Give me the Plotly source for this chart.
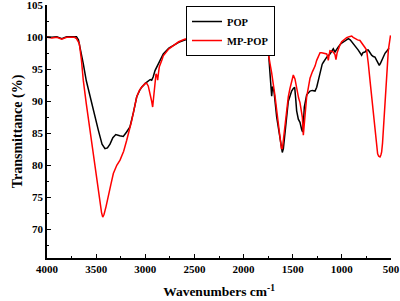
import plotly.graph_objects as go

# POP (black)
pop_wn = [4000, 3950, 3900, 3850, 3800, 3750, 3700, 3680, 3650, 3631, 3600, 3562, 3520, 3478, 3440,
          3410, 3385, 3359, 3330, 3300, 3260, 3224, 3190, 3156, 3120, 3087, 3054, 3037, 3000, 2970,
          2950, 2935, 2920, 2901, 2868, 2840, 2817, 2760, 2715, 2660, 2613, 2550, 2477, 2400, 2360,
          2340, 2300, 2200, 2100, 2000, 1900, 1800, 1780, 1760, 1748, 1731, 1722, 1714, 1705, 1690,
          1663, 1640, 1629, 1615, 1606, 1595, 1586, 1570, 1561, 1545, 1528, 1511, 1494, 1480, 1470,
          1460, 1443, 1426, 1409, 1399, 1390, 1382, 1358, 1324, 1300, 1273, 1256, 1240, 1222, 1200,
          1188, 1154, 1121, 1100, 1087, 1070, 1050, 1036, 1010, 985, 960, 934, 915, 900, 867,
          833, 799, 785, 765, 748, 731, 715, 697, 680, 663, 646, 630, 619, 605, 595,
          578, 561, 540, 527, 520]
pop_t = [100.1, 100.0, 100.1, 99.8, 100.1, 100.1, 100.1, 99.6, 97.5, 95.9, 93.2, 90.7, 88.0, 85.5, 83.3,
         82.6, 82.7, 83.3, 84.3, 84.8, 84.6, 84.5, 85.2, 86.0, 88.3, 90.7, 91.8, 92.2, 92.8, 93.1,
         93.4, 93.3, 93.8, 94.8, 95.9, 96.8, 97.4, 98.3, 98.75, 99.2, 99.5, 99.8, 100.0, 100.0, 99.7,
         99.9, 100.0, 100.0, 100.1, 100.0, 100.0, 100.0, 99.7, 98.8, 98.0, 94.3, 91.5, 90.8, 92.3, 91.5,
         87.5, 85.0, 83.9, 82.5, 82.0, 82.6, 84.0, 87.0, 88.5, 90.0, 90.8, 91.6, 92.0, 92.2, 90.5,
         88.5, 87.2, 86.7, 85.6, 85.2, 87.0, 89.1, 91.0, 91.6, 91.7, 91.6, 92.2, 93.3, 94.8, 95.8,
         96.1, 96.9, 97.4, 97.9, 98.2, 97.7, 98.3, 98.5, 99.0, 99.3, 99.6, 99.8, 99.6, 99.3, 98.75,
         98.0, 97.2, 97.6, 97.7, 98.0, 98.0, 97.6, 97.2, 97.0, 96.9, 96.4, 95.9, 95.6, 96.0, 96.4,
         97.0, 97.5, 97.9, 98.2, 98.3]

# MP-POP (red)
mp_wn = [4000, 3950, 3900, 3850, 3800, 3750, 3720, 3700, 3671, 3650, 3631, 3600, 3562, 3530, 3494,
         3465, 3445, 3433, 3420, 3400, 3376, 3350, 3325, 3290, 3257, 3220, 3189, 3160, 3138, 3110,
         3087, 3060, 3037, 3000, 2986, 2970, 2959, 2945, 2935, 2925, 2915, 2908, 2891, 2880, 2874,
         2865, 2857, 2830, 2817, 2760, 2715, 2660, 2600, 2500, 2420, 2395, 2375, 2360, 2350, 2340,
         2320, 2300, 2200, 2100, 2000, 1900, 1800, 1782, 1760, 1745, 1731, 1715, 1697, 1680, 1663,
         1645, 1629, 1615, 1605, 1595, 1578, 1560, 1545, 1528, 1511, 1494, 1477, 1465, 1453, 1440,
         1426, 1410, 1402, 1392, 1385, 1375, 1358, 1340, 1324, 1300, 1273, 1256, 1240, 1222, 1205,
         1188, 1154, 1145, 1138, 1130, 1121, 1100, 1087, 1070, 1060, 1048, 1036, 1020, 1002, 975,
         951, 925, 900, 885, 867, 840, 816, 800, 782, 765, 748, 740, 731, 714, 697,
         685, 673, 653, 636, 625, 612, 603, 595, 586, 578, 561, 544, 527, 510, 505]
mp_t = [100.0, 99.9, 100.0, 99.7, 100.0, 100.0, 100.0, 99.8, 99.0, 96.5, 93.3, 89.6, 85.5, 81.5, 77.7,
        74.8, 72.6, 71.9, 72.3, 73.5, 75.0, 77.0, 78.7, 80.0, 80.8, 82.2, 83.9, 85.6, 87.0, 89.0,
        90.7, 91.7, 92.2, 92.8, 92.8, 92.4, 91.7, 91.0, 90.0, 89.1, 90.5, 92.2, 94.3, 94.0, 93.3,
        94.5, 95.4, 96.5, 97.1, 98.2, 98.75, 99.3, 99.7, 100.0, 100.0, 99.8, 98.3, 97.3, 98.0, 97.9,
        99.3, 100.0, 100.0, 100.0, 100.0, 100.0, 100.0, 99.9, 98.6, 97.5, 95.9, 94.5, 92.8, 90.8, 88.6,
        86.0, 83.9, 82.6, 82.6, 84.0, 86.5, 88.8, 90.7, 92.0, 93.3, 94.1, 93.5, 92.5, 91.2, 90.5,
        89.8, 88.5, 87.5, 84.7, 86.0, 88.1, 90.7, 92.2, 93.6, 94.6, 95.5, 96.4, 97.1, 97.6, 97.6,
        97.5, 97.4, 97.0, 96.4, 97.2, 97.9, 97.8, 97.7, 97.3, 96.5, 97.6, 98.2, 98.8, 99.3, 99.7,
        99.95, 100.1, 100.2, 100.0, 99.8, 99.6, 99.5, 99.2, 98.75, 98.4, 98.0, 97.2, 95.9, 93.3, 90.7,
        88.5, 86.5, 83.4, 81.8, 81.4, 81.3, 81.6, 82.1, 83.5, 85.5, 89.6, 94.3, 98.0, 99.8, 100.3]

x_ticks = [4000, 3500, 3000, 2500, 2000, 1500, 1000, 500]
y_ticks = [70, 75, 80, 85, 90, 95, 100, 105]

FONT = "Liberation Serif"

fig = go.Figure()
fig.add_trace(go.Scatter(x=pop_wn, y=pop_t, mode="lines", name="POP",
                         line=dict(color="black", width=1.5)))
fig.add_trace(go.Scatter(x=mp_wn, y=mp_t, mode="lines", name="MP-POP",
                         line=dict(color="#ff0000", width=1.5)))

axis_common = dict(
    showline=True, linecolor="black", linewidth=1.5,
    ticks="inside", ticklen=4, tickwidth=1.2, tickcolor="black",
    showgrid=False, zeroline=False, automargin=False,
    ticklabeloverflow="allow",
    tickfont=dict(family=FONT, size=11, color="black", weight="bold"),
)

fig.update_xaxes(
    range=[4000, 500], tickvals=x_ticks, ticktext=[str(v) for v in x_ticks],
    minor=dict(ticks="inside", ticklen=2.5, tickwidth=1, tickcolor="black", dtick=250, tick0=0),
    title=dict(text="Wavenumbers cm<sup>-1</sup>",
               font=dict(family=FONT, size=13.5, color="black", weight="bold"), standoff=13),
    **axis_common,
)
fig.update_yaxes(
    range=[65.5, 105.05], tickvals=y_ticks, ticktext=[str(v) for v in y_ticks],
    minor=dict(ticks="inside", ticklen=2.5, tickwidth=1, tickcolor="black", dtick=2.5, tick0=0),
    title=dict(text="Transmittance (%)",
               font=dict(family=FONT, size=14, color="black", weight="bold"), standoff=1),
    **axis_common,
)

fig.update_layout(
    width=400, height=301,
    margin=dict(l=47, r=9, t=5, b=43),
    paper_bgcolor="white", plot_bgcolor="white",
    showlegend=True,
    legend=dict(x=0.404, y=0.996, xanchor="left", yanchor="top",
                bordercolor="black", borderwidth=1, bgcolor="white",
                font=dict(family=FONT, size=10.5, color="black", weight="bold"),
                itemwidth=30, tracegroupgap=0),
)

fig.write_html("out.html", config={"displayModeBar": False},
               post_script="document.body.style.margin='0';document.body.style.padding='0';")
